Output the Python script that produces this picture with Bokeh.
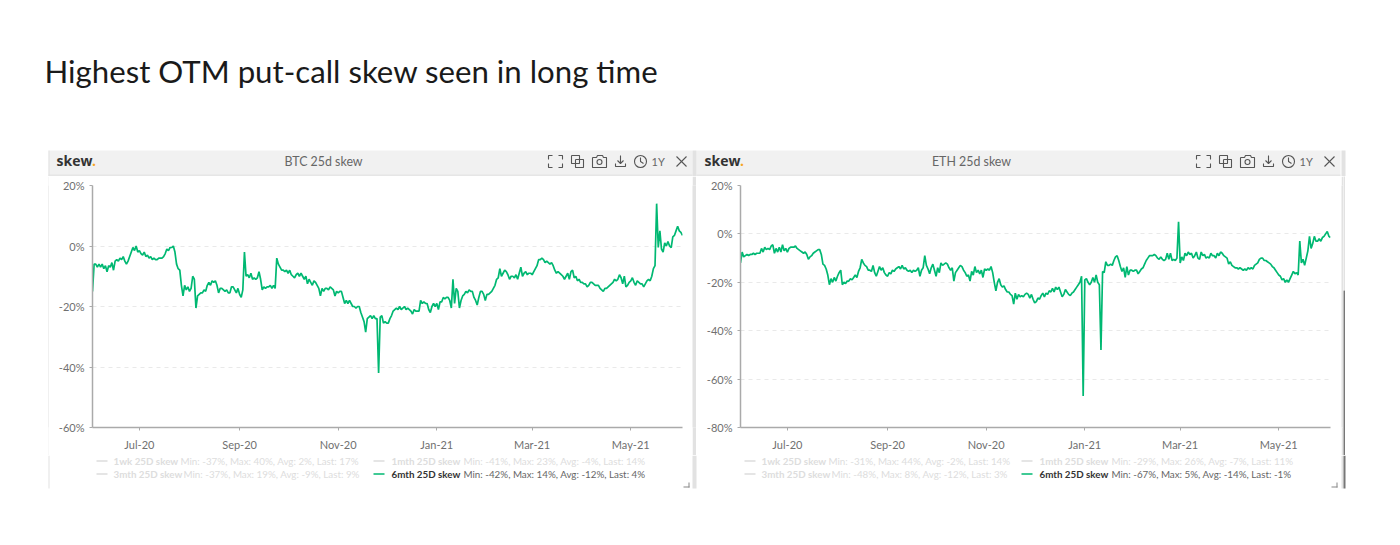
import pandas as pd
from bokeh.core.properties import value
from bokeh.embed import file_html
from bokeh.layouts import column, row
from bokeh.models import ColumnDataSource, DatetimeTickFormatter, FixedTicker, PrintfTickFormatter, Range1d
from bokeh.plotting import figure
from bokeh.resources import INLINE

TITLE = "Highest OTM put-call skew seen in long time"
START_DATE = "2020-06-02"
END_DATE = "2021-06-02"
X_TICK_DATES = ["2020-07-01", "2020-09-01", "2020-11-01", "2021-01-01", "2021-03-01", "2021-05-01"]

BTC_TITLE = "BTC 25d skew"
BTC_TICKS = [20, 0, -20, -40, -60]
BTC_6M = [
    -15, -6, -6, -7, -6, -7, -6, -7.5, -6.5, -8.5, -6.5, -7, -5.5, -8, -5, -4.5, -5, -4, -4.5, -3.5,
    -5, -6, -5, -3.5, -2, -0.5, -1.5, 0, -2, -1.5, -2.5, -3, -2, -3.5, -3, -4, -3.5, -4.5, -4, -4.5,
    -4.5, -4, -4, -4, -3.5, -2.5, -1, -1.5, -0.5, -0.5, 0, -2, -6, -7.5, -8, -13, -16.5, -13, -14.5, -13.5,
    -15, -14, -10, -11, -20.5, -16.5, -16, -15.5, -15.5, -14.5, -15, -13, -12, -13, -11.5, -12, -11.5, -13, -15.5, -14,
    -14, -14.5, -15, -14.5, -15.5, -15.5, -13.5, -13.5, -14.5, -15.5, -14, -16, -17, -14.5, -2, -10, -9.5, -10.5, -9, -11,
    -10.5, -11, -10.5, -8.5, -11, -14.5, -13.5, -14, -13.5, -13.5, -13, -14, -13, -14, -4, -6, -7, -8, -8, -8.5,
    -8, -9, -8, -9.5, -10, -10.5, -9.5, -9, -10, -9, -10, -11, -10, -12.5, -11, -12, -13, -11.5, -12, -13,
    -14, -16.5, -14, -15, -14, -14, -14.5, -13.5, -14, -14.5, -16.5, -15, -15.5, -15, -15, -17, -19, -18, -19, -18,
    -19, -20, -20, -20.5, -20, -20, -22, -23.5, -25, -28.5, -24, -23.5, -23, -24, -23, -24, -24, -42, -23.5, -23,
    -25.5, -25, -25.5, -25.5, -24, -23, -21.5, -21, -20.5, -21, -20, -21, -20.5, -20, -21, -20.5, -21, -21.5, -22.5, -21,
    -21.5, -21.5, -21.5, -18, -19, -18.5, -19, -19, -21, -22, -20, -19, -20, -19, -21, -18.5, -18.5, -17, -17.5, -17,
    -17, -18, -20.5, -11, -19, -14, -15, -20.5, -18, -16.5, -16, -15, -15.5, -14.5, -15, -15, -17, -18, -19.5, -17,
    -15, -15, -16, -18, -16, -16, -15.5, -15, -14, -13, -11, -10.5, -7.5, -10, -9, -8, -8.5, -9.5, -11, -10,
    -10, -10.5, -9.5, -11, -9, -7, -10, -9, -8.5, -9.5, -9, -9, -9.5, -8.5, -7.5, -6.5, -4.5, -4.5, -4, -4.5,
    -5.5, -5, -5.5, -6, -5.5, -6.5, -8, -9, -8.5, -9, -9.5, -10, -11, -10, -9, -11, -8.5, -8, -10.5, -10,
    -11.5, -11, -12, -12, -12.5, -12.5, -13.5, -13, -12, -12, -12.5, -13, -13, -13, -14, -14.5, -15, -14, -14, -13.5,
    -13, -12.5, -12, -11, -11.5, -11, -9.5, -10.5, -12.5, -10, -13.5, -13, -12, -11.5, -10.5, -12, -13, -11.5, -12, -12.5,
    -12.5, -13.5, -12.5, -11.5, -11, -11.5, -10, -7.5, -6.5, 14, -0.5, 5, -1, -2, 1, 0, 1.5, 0, -0.5, 3,
    3.5, 5, 6.5, 5, 4.5, 3.5,
]

ETH_TITLE = "ETH 25d skew"
ETH_TICKS = [20, 0, -20, -40, -60, -80]
ETH_6M = [
    -12, -7.5, -9.5, -9, -8.5, -9, -8.5, -8.5, -8, -8.5, -8, -8, -8, -6, -7.5, -5.5, -6.5, -6, -6.5, -5,
    -4.5, -8, -6, -7.5, -5.5, -7.5, -4.5, -7, -6, -7.5, -6, -5.5, -5.5, -5.5, -5, -6, -6.5, -7, -7.5, -8,
    -7.5, -8.5, -10.5, -9.5, -9, -8, -7.5, -7, -6.5, -6.5, -8.5, -12.5, -13, -14.5, -17, -21, -18.5, -20, -18, -19.5,
    -17.5, -16, -15, -21, -20, -20.5, -19.5, -19.5, -18.5, -19, -18, -17, -18, -15.5, -14, -10.5, -12, -13, -13.5, -15,
    -15, -15.5, -13, -16, -17.5, -15.5, -13.5, -15, -14, -16, -17, -17.5, -16, -16.5, -15, -15.5, -14.5, -14, -13.5, -14.5,
    -13, -14.5, -14, -15, -15.5, -15, -16, -15, -15.5, -15, -14, -17.5, -15, -14, -9, -13, -14.5, -16.5, -14, -12.5,
    -15, -17.5, -14, -16, -12, -13, -12.5, -12, -12.5, -14, -15, -14, -19.5, -16, -15, -14, -13, -13.5, -15, -16,
    -17.5, -17, -19.5, -15.5, -17, -13.5, -16, -15, -16.5, -15, -18, -14.5, -15, -14.5, -15, -13.5, -16, -20, -23.5, -20,
    -18.5, -21, -22, -21.5, -23, -24, -24, -25, -25.5, -29, -24.5, -27, -25, -26, -25.5, -26, -25, -24.5, -25, -26.5,
    -25, -27, -28.5, -28, -26.5, -27, -25.5, -24.5, -26, -24.5, -25, -23.5, -24, -22.5, -24, -22, -23, -22, -24, -26,
    -25, -23, -24, -25, -25.5, -24.5, -24, -23, -22, -21, -20, -17.5, -67, -19, -18.5, -20, -21, -20, -18, -20,
    -17, -20, -21, -48, -15.5, -16, -11.5, -13, -13, -12.5, -13, -11, -9.5, -9, -11, -13.5, -15.5, -14, -18, -13.5,
    -17, -15, -15, -15.5, -15, -15, -16.5, -15.5, -14.5, -14, -12.5, -11, -10, -9, -9, -9, -8.5, -9, -10, -10.5,
    -9.5, -10.5, -11, -10.5, -8, -10.5, -8, -11, -10.5, -11, -10, 5, -12, -9.5, -11, -8, -9, -7.5, -8.5, -8,
    -10, -9, -7.5, -10, -10.5, -7.5, -9, -8.5, -10, -9.5, -10, -8, -9, -9, -10, -8, -9, -7.5, -8, -9,
    -9.5, -10, -12.5, -11.5, -13, -13.5, -14, -14, -14.5, -14, -14.5, -15, -14.5, -15, -14, -14.5, -14, -14.5, -13, -12.5,
    -12, -10.5, -10, -10, -11, -11, -11.5, -12, -12.5, -13.5, -14, -15, -16, -17, -17.5, -19, -18.5, -20, -19, -20,
    -18.5, -17, -15.5, -16.5, -16, -17, -3, -12, -10.5, -13, -10, -7, -1, -6, -4, -1, -3, -3, -2, -3,
    -1.5, -1, 0, 1, -1, -1.5,
]

SERIES_NAMES = ["1wk 25D skew", "1mth 25D skew", "3mth 25D skew", "6mth 25D skew"]
BTC_STATS = ["Min: -37%, Max: 40%, Avg: 2%, Last: 17%", "Min: -41%, Max: 23%, Avg: -4%, Last: 14%",
             "Min: -37%, Max: 19%, Avg: -9%, Last: 9%", "Min: -42%, Max: 14%, Avg: -12%, Last: 4%"]
ETH_STATS = ["Min: -31%, Max: 44%, Avg: -2%, Last: 14%", "Min: -29%, Max: 26%, Avg: -7%, Last: 11%",
             "Min: -48%, Max: 8%, Avg: -12%, Last: 3%", "Min: -67%, Max: 5%, Avg: -14%, Last: -1%"]

GREEN = "#00b872"
FONT = "Lato"
EDGE = "#e2e2e2"
DARK = "#777777"
ICON = "#555555"
ms = lambda s: pd.Timestamp(s).value / 1e6


def chrome(x0, x1, y0, y1, fill="white"):
    """A figure without axes whose frame fills it, with one data unit per page pixel."""
    p = figure(width=x1 - x0, height=y1 - y0, output_backend="svg", toolbar_location=None,
               x_range=Range1d(x0, x1), y_range=Range1d(y1, y0), x_axis_location=None, y_axis_location=None,
               min_border_left=0, min_border_right=0, min_border_top=0, min_border_bottom=0,
               outline_line_color=None, background_fill_color=fill, border_fill_color=fill)
    p.grid.visible = False
    return p


def box(p, l, r, t, b, color):
    p.quad(left=[l], right=[r], top=[t], bottom=[b], fill_color=color, line_color=None)


def label(p, x, y, s, size, color, style="normal", font=FONT, align="left"):
    p.text(x=[x], y=[y], text=[s], text_font=value(font), text_font_size=value(f"{size}px"), text_color=color,
           text_font_style=style, text_align=align, text_baseline="middle")


def header(p, dx, title):
    box(p, 48 + dx, 692 + dx, 150, 175, "#f1f1f1")
    box(p, 48 + dx, 692 + dx, 174, 176, "#e6e6e6")
    label(p, 56 + dx, 160, "skew", 14, "#333333", "bold", "Open Sans")
    label(p, 91.5 + dx, 160, ".", 14, "#f5a623", "bold", "Open Sans")
    label(p, 323 + dx, 161, title, 12.4, "#666666", align="center")
    xs = [
        [548, 548, 552], [558, 562, 562], [548, 548, 552], [558, 562, 562],
        [571, 579, 579, 571, 571], [575, 583, 583, 575, 575],
        [592, 596, 597, 602, 603, 606, 606, 592, 592],
        [620, 620], [617, 620, 623], [615, 615, 625, 625],
        [640, 640, 643], [676, 686], [686, 676],
    ]
    ys = [
        [159, 155, 155], [155, 155, 159], [163, 167, 167], [167, 167, 163],
        [155, 155, 163, 163, 155], [159, 159, 167, 167, 159],
        [157, 157, 155, 155, 157, 157, 167, 167, 157],
        [155, 163], [160, 163, 160], [163, 166, 166, 163],
        [157, 161, 163], [156, 166], [156, 166],
    ]
    p.multi_line([[v + dx for v in row_] for row_ in xs], ys, line_color=ICON, line_width=1.1)
    p.circle(x=[599 + dx, 640 + dx], y=[161.5, 161], radius=[2.5, 6], fill_alpha=0, line_color=ICON, line_width=1.1)
    label(p, 651 + dx, 161, "1Y", 11, "#666666")


def legend(p, dx, stats):
    spots = [(96, 113, 180, 460.5), (373, 391, 463, 460.5), (96, 113, 183, 473.5), (373, 391, 463, 473.5)]
    for i, (swatch, name_x, stat_x, y) in enumerate(spots):
        on = i == 3
        box(p, swatch + dx, swatch + 11 + dx, y - 0.75, y + 0.75, GREEN if on else "#dddddd")
        label(p, name_x + dx, y, SERIES_NAMES[i], 9.8, "#333333" if on else "#dddddd", "bold")
        label(p, stat_x + dx, y, stats[i], 9.8, "#666666" if on else "#dddddd")
    box(p, 683 + dx, 689 + dx, 486, 487, "#888888")
    box(p, 688 + dx, 689 + dx, 482, 487, "#888888")


def chart(values, ticks, width, left, right):
    p = figure(width=width, height=279, output_backend="svg", toolbar_location=None,
               x_axis_type="datetime", x_range=Range1d(ms(START_DATE), ms(END_DATE)),
               y_range=Range1d(min(ticks), max(ticks)), min_border_left=left, min_border_right=right,
               min_border_top=9, min_border_bottom=28, outline_line_color=None,
               background_fill_color="white", border_fill_color="white")
    p.xaxis.ticker = FixedTicker(ticks=[ms(d) for d in X_TICK_DATES])
    p.xaxis.formatter = DatetimeTickFormatter(months="%b-%y", days="%b-%y", years="%b-%y", hours="%b-%y")
    p.yaxis.ticker = FixedTicker(ticks=ticks)
    p.yaxis.formatter = PrintfTickFormatter(format="%d%%")
    for ax in (p.xaxis[0], p.yaxis[0]):
        ax.axis_line_color = "#aaaaaa"
        ax.axis_line_width = 1.5
        ax.major_tick_line_color = "#aaaaaa"
        ax.major_tick_out = 3
        ax.major_tick_in = 0
        ax.minor_tick_line_color = None
        ax.major_label_text_font = FONT
        ax.major_label_text_font_size = "11px"
        ax.major_label_text_color = "#707070"
    p.xaxis.major_label_standoff = 7
    p.yaxis.major_label_standoff = 5
    p.xgrid.visible = False
    p.ygrid.ticker = FixedTicker(ticks=ticks)
    p.ygrid.grid_line_color = "#e9e9e9"
    p.ygrid.grid_line_dash = "4 4"
    src = ColumnDataSource(dict(x=pd.date_range(START_DATE, periods=len(values), freq="D"), y=values))
    p.line("x", "y", source=src, line_color=GREEN, line_width=1.7)
    return p


PAGE_W, CHART_TOP, BAR_TOP, CHART_BOTTOM, PAGE_H = 1392, 176, 290, 455, 537

top = chrome(0, PAGE_W, 0, CHART_TOP)
label(top, 44, 70, TITLE, 31.2, "#1a1a1a")
header(top, 0, BTC_TITLE)
header(top, 648, ETH_TITLE)
box(top, 48, 49, 150, 176, EDGE)
box(top, 692, 696, 150, 176, EDGE)
box(top, 1341, 1345, 150, 176, EDGE)

# solid strips beside the two charts: panel edges and the scroll bar
left_pad = chrome(0, 48, CHART_TOP, CHART_BOTTOM)
left_edge = chrome(48, 49, CHART_TOP, CHART_BOTTOM, EDGE)
gap = chrome(692, 696, CHART_TOP, CHART_BOTTOM, EDGE)
right_edge = chrome(1341, 1343, CHART_TOP, CHART_BOTTOM, EDGE)
bar_light = chrome(1343, 1345, CHART_TOP, BAR_TOP, EDGE)
bar_dark = chrome(1343, 1345, BAR_TOP, CHART_BOTTOM, DARK)
right_pad = chrome(1345, PAGE_W, CHART_TOP, CHART_BOTTOM)

p1 = chart(BTC_6M, BTC_TICKS, 643, 43, 10)
p2 = chart(ETH_6M, ETH_TICKS, 645, 44, 11)

bottom = chrome(0, PAGE_W, CHART_BOTTOM, PAGE_H)
legend(bottom, 0, BTC_STATS)
legend(bottom, 648, ETH_STATS)
box(bottom, 48, 49, CHART_BOTTOM, 488, EDGE)
box(bottom, 692, 696, CHART_BOTTOM, 488, EDGE)
box(bottom, 1341, 1343, CHART_BOTTOM, 488, EDGE)
box(bottom, 1343, 1345, CHART_BOTTOM, 488, DARK)

middle = row(left_pad, left_edge, p1, gap, p2, right_edge, column(bar_light, bar_dark, spacing=0), right_pad, spacing=0)
layout = column(top, middle, bottom, spacing=0)
open("out.html", "w").write(file_html(layout, INLINE))
